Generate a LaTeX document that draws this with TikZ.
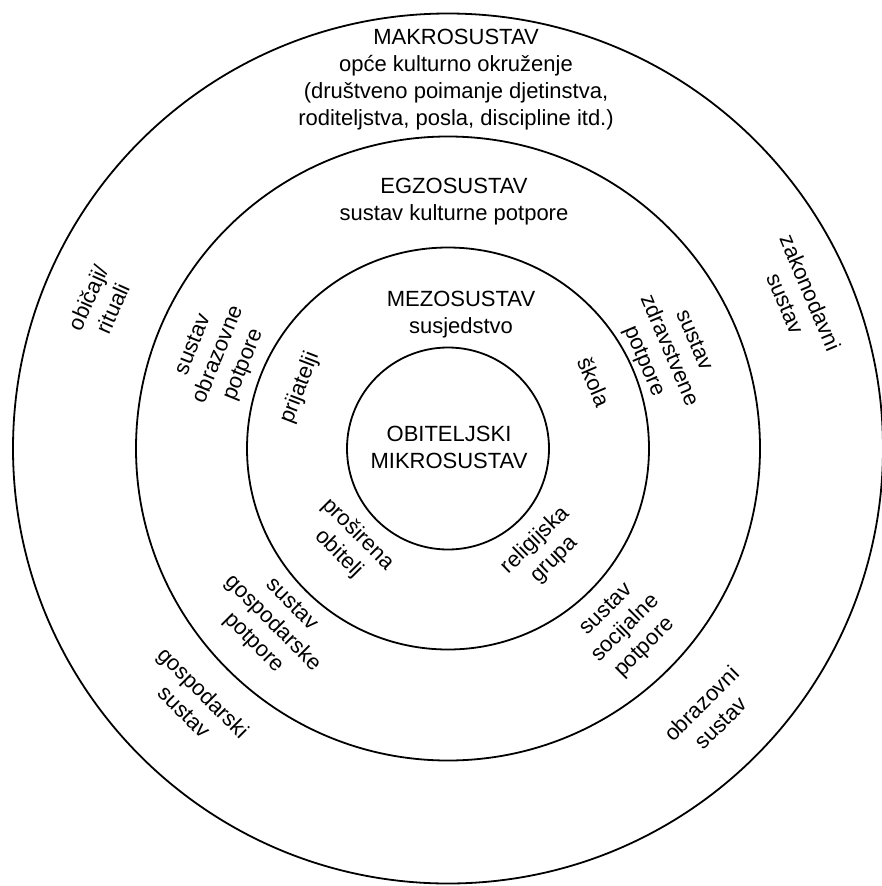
\documentclass[tikz,border=0pt]{standalone}
\usepackage{fontspec}
\setmainfont{Liberation Sans}
\begin{document}
\begin{tikzpicture}[x=1pt,y=-1pt,
  ring/.style={circle,draw,line width=1.8pt,inner sep=0pt},
  lbl/.style={align=center,inner sep=0pt,font=\fontsize{22}{27}\selectfont}]
\useasboundingbox[fill=white] (0,0) rectangle (881,886);
\coordinate (c) at (448,448.5);
\node[ring,minimum size=870pt] (makro) at (c) {};
\node[ring,minimum size=624pt] (egzo) at (c) {};
\node[ring,minimum size=402pt] (mezo) at (c) {};
\node[ring,minimum size=202pt] (mikro) at (c) {};
% headings
\node[lbl] (tmakro) at (456,80) {MAKROSUSTAV\\opće kulturno okruženje\\(društveno poimanje djetinstva,\\roditeljstva, posla, discipline itd.)};
\node[lbl] (tegzo) at (454,202) {EGZOSUSTAV\\sustav kulturne potpore};
\node[lbl] (tmezo) at (461,315) {MEZOSUSTAV\\susjedstvo};
\node[lbl] (tmikro) at (449,447) {OBITELJSKI\\MIKROSUSTAV};
% outer ring
\node[lbl,rotate=66] (obicaji) at (100,303) {običaji/\\rituali};
\node[lbl,rotate=-67] (zakon) at (798,298) {zakonodavni\\sustav};
\node[lbl,rotate=-45] (gosps) at (194,702) {gospodarski\\sustav};
\node[lbl,rotate=45] (obrs) at (711,713) {obrazovni\\sustav};
% middle ring
\node[lbl,rotate=68] (obrp) at (219,355) {sustav\\obrazovne\\potpore};
\node[lbl,rotate=-67] (zdrp) at (668,351) {sustav\\zdravstvene\\potpore};
\node[lbl,rotate=-45] (gospp) at (272,624) {sustav\\gospodarske\\potpore};
\node[lbl,rotate=45] (socp) at (626,629) {sustav\\socijalne\\potpore};
% inner ring
\node[lbl,rotate=69] (prij) at (300,388) {prijatelji};
\node[lbl,rotate=-67] (skola) at (594,382) {škola};
\node[lbl,rotate=-45] (prosir) at (348,544) {proširena\\obitelj};
\node[lbl,rotate=44] (relig) at (545,550) {religijska\\grupa};
\end{tikzpicture}
\end{document}
